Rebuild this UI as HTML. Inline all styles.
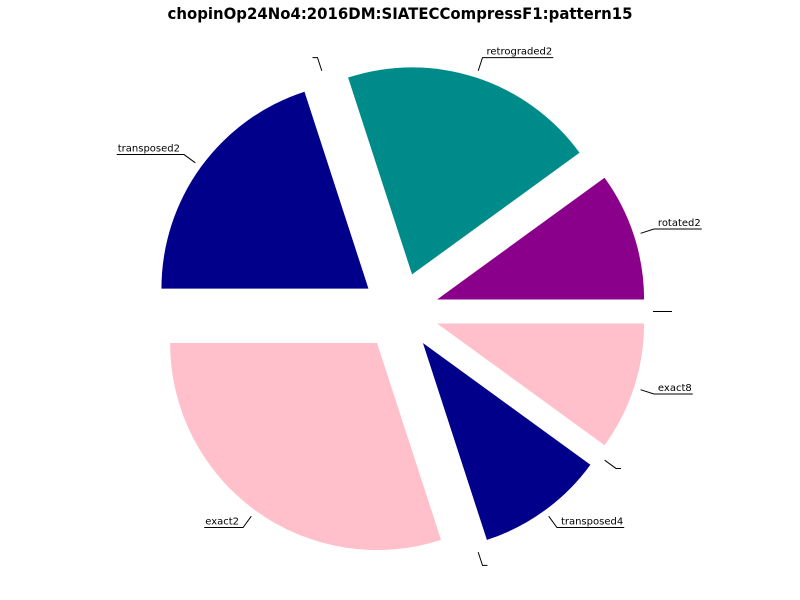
<!DOCTYPE html>
<html><head><meta charset="utf-8"><style>
body{margin:0;background:#fff}
svg{display:block}
text{font-family:"DejaVu Sans","Liberation Sans",sans-serif}
</style></head><body>
<svg id="chart" width="800" height="600" viewBox="0 0 800 600">
<rect width="800" height="600" fill="#fff"/>
<text x="400" y="19" text-anchor="middle" font-size="16" font-weight="bold" textLength="465" lengthAdjust="spacingAndGlyphs">chopinOp24No4:2016DM:SIATECCompressF1:pattern15</text>
<g id="slices"></g>
<g id="labels"></g>
</svg>
<script>
const labels = ["rotated2","retrograded2","","transposed2","exact2","","transposed4","","exact8",""];
const values = [1,2,0,2,3,0,1,0,1,0];
const colors = ["#8b008b","#008b8b","#00008b","#00008b","#ffc0cb","#ffc0cb","#00008b","#00008b","#ffc0cb","#ffc0cb"];
const cx=400, cy=311.5, R=207, EXP=39;
const NS="http://www.w3.org/2000/svg";
const total=values.reduce((a,b)=>a+b,0);
const gS=document.getElementById('slices'), gL=document.getElementById('labels');
function pt(a,d,ox,oy){return [ox+d*Math.cos(a), oy-d*Math.sin(a)];}
let start=0;
values.forEach((v,i)=>{
  const sweep=v/total*2*Math.PI, mid=start+sweep/2;
  const ox=cx+EXP*Math.cos(mid), oy=cy-EXP*Math.sin(mid);
  if(v>0){
    const p1=pt(start,R,ox,oy), p2=pt(start+sweep,R,ox,oy);
    const path=document.createElementNS(NS,'path');
    path.setAttribute('d',`M${ox},${oy} L${p1[0]},${p1[1]} A${R},${R} 0 ${sweep>Math.PI?1:0} 0 ${p2[0]},${p2[1]} Z`);
    path.setAttribute('fill',colors[i]);
    
    
    gS.appendChild(path);
  }
  const a=pt(mid,R+7,ox,oy), b=pt(mid,R+21,ox,oy);
  const right=Math.cos(mid)>=-1e-9;
  const t=document.createElementNS(NS,'text');
  t.textContent=labels[i];
  t.setAttribute('font-size','10');
  t.setAttribute('y',b[1]-3);
  t.setAttribute('x',right?b[0]+4:b[0]-4);
  t.setAttribute('text-anchor',right?'start':'end');
  
  
  gL.appendChild(t);
  const w=(labels[i]?t.getComputedTextLength():0)+5;
  const pl=document.createElementNS(NS,'polyline');
  const ex=right?b[0]+w:b[0]-w;
  pl.setAttribute('points',`${a[0]},${a[1]} ${b[0]},${b[1]} ${ex},${b[1]}`);
  pl.setAttribute('fill','none');pl.setAttribute('stroke','#000');pl.setAttribute('stroke-width','1');
  
  
  gL.appendChild(pl);
  start+=sweep;
});
</script>
</body></html>
